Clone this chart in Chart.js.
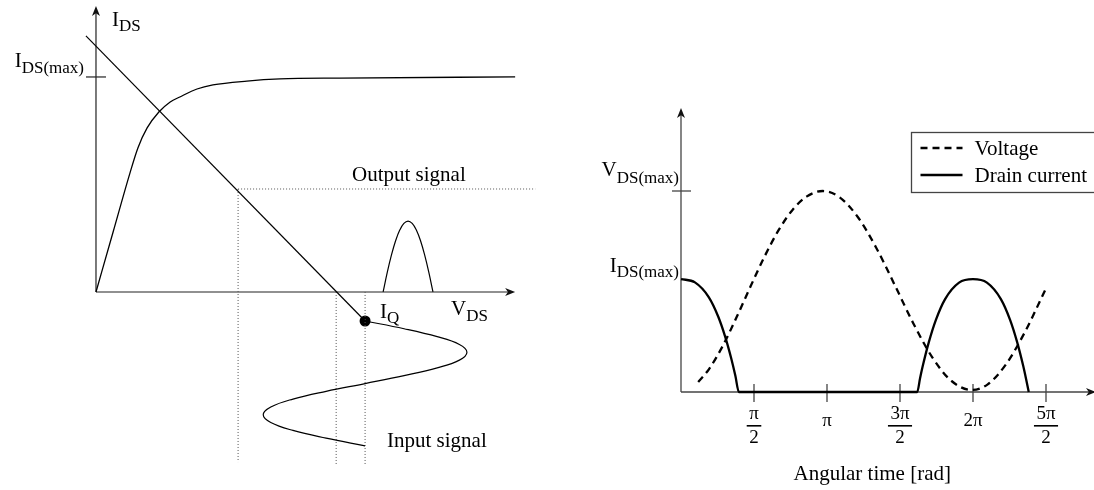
<!DOCTYPE html>
<html>
<head>
<meta charset="utf-8">
<script src="https://cdn.jsdelivr.net/npm/chart.js@4.4.1/dist/chart.umd.min.js"></script>
<style>
  html, body { margin: 0; padding: 0; background: #fff; overflow: hidden; }
  #wrap { position: relative; width: 1094px; height: 490px; }
  canvas { position: absolute; top: 0; }
  #load { left: 0; }
  #wave { left: 547px; }
</style>
</head>
<body>
<div id="wrap">
  <canvas id="load" width="547" height="490"></canvas>
  <canvas id="wave" width="547" height="490"></canvas>
</div>
<script>
const SERIF = '"Liberation Serif", "Times New Roman", serif';

// ---------- Left panel: output characteristic, load line and signals ----------
// Output characteristic I_DS(V_DS)
const charV = [0, 0.41, 0.81, 1.00, 1.22, 1.50, 1.77, 2.00, 2.41, 2.79, 3.60, 4.39, 5.82, 10.0];
const charI = [0, 2.80, 5.53, 6.70, 7.63, 8.37, 8.84, 9.07, 9.44, 9.63, 9.81, 9.91, 9.95, 10.0];
// Load line through the quiescent point
const loadV = [-0.24, 6.42];
const loadI = [11.91, -1.35];
const quiescentV = [6.42];
const quiescentI = [-1.35];
// Input signal drawn below the V_DS axis (time runs downward)
const inputV = [6.42, 7.35, 8.14, 8.67, 8.85, 8.67, 8.14, 7.35, 6.42, 5.49, 4.70, 4.17, 3.99, 4.17, 4.70, 5.49, 6.42];
const inputI = [-1.35, -1.71, -2.08, -2.44, -2.80, -3.17, -3.53, -3.89, -4.26, -4.62, -4.98, -5.35, -5.71, -6.07, -6.44, -6.80, -7.16];
// Output current pulse
const pulseV = [6.85, 6.949, 7.048, 7.148, 7.247, 7.346, 7.445, 7.544, 7.643, 7.743, 7.842, 7.941, 8.04];
const pulseI = [0, 0.91, 1.71, 2.38, 2.88, 3.19, 3.30, 3.19, 2.88, 2.38, 1.71, 0.91, 0];
// Dotted projection lines
const outputLevelV = [3.39, 10.48];
const outputLevelI = [4.79, 4.79];
const dropV = [3.39, 5.73, 6.42];
const dropTop = [4.79, 0, 0];
const dropBottom = [-7.91, -8.05, -8.05];
const idsMax = 10;
const vdsAxisMax = 10;
const idsAxisMax = 13.3;
const vdsView = [-2.29, 10.76];
const idsView = [-9.21, 13.58];

// ---------- Right panel: drain voltage and current against angular time ----------
const voltT = [0.37, 0.60, 0.90, 1.20, 1.50, 1.80, 2.10, 2.40, 2.70, 3.05, 3.40, 3.80, 4.20, 4.60, 5.00, 5.40, 5.80, 6.26, 6.60, 7.00, 7.40, 7.64, 7.87];
const voltage = [0.050, 0.113, 0.230, 0.374, 0.527, 0.675, 0.805, 0.906, 0.972, 1.0, 0.971, 0.872, 0.718, 0.532, 0.341, 0.175, 0.059, 0.01, 0.038, 0.140, 0.298, 0.411, 0.524];
const currT = [0, 0.30, 0.60, 0.80, 0.95, 1.08, 1.17, 1.245, 5.083, 5.143, 5.203, 5.333, 5.483, 5.683, 5.983, 6.283, 6.583, 6.883, 7.083, 7.233, 7.363, 7.423, 7.483];
const current = [1.0, 0.971, 0.839, 0.669, 0.491, 0.299, 0.144, 0, 0, 0.120, 0.232, 0.442, 0.637, 0.823, 0.969, 1.0, 0.969, 0.823, 0.637, 0.442, 0.232, 0.120, 0];
const seriesNames = ['Voltage', 'Drain current'];
const tickValues = [Math.PI / 2, Math.PI, 3 * Math.PI / 2, 2 * Math.PI, 5 * Math.PI / 2];
const tickNum = ['π', 'π', '3π', '2π', '5π'];
const tickDen = ['2', '', '2', '', '2'];
const timeMax = 5 * Math.PI / 2;
const currentAxisMax = 1.78;

const pts = (xs, ys) => xs.map((x, i) => ({ x, y: ys[i] }));

function arrow(ctx, tx, ty, dir, len = 10, half = 4) {
  ctx.beginPath();
  if (dir === 'up') {
    ctx.moveTo(tx, ty);
    ctx.lineTo(tx + half, ty + len);
    ctx.lineTo(tx, ty + len * 0.72);
    ctx.lineTo(tx - half, ty + len);
  } else {
    ctx.moveTo(tx, ty);
    ctx.lineTo(tx - len, ty - half);
    ctx.lineTo(tx - len * 0.72, ty);
    ctx.lineTo(tx - len, ty + half);
  }
  ctx.closePath();
  ctx.fill();
}

function seg(ctx, x1, y1, x2, y2) {
  ctx.beginPath();
  ctx.moveTo(x1, y1);
  ctx.lineTo(x2, y2);
  ctx.stroke();
}

// Main symbol with a subscript; x is the left edge, or the right edge when align is 'right'
function subLabel(ctx, main, sub, x, base, shift, align) {
  ctx.font = '21px ' + SERIF;
  const wm = ctx.measureText(main).width;
  ctx.font = '17px ' + SERIF;
  const ws = ctx.measureText(sub).width;
  const x0 = align === 'right' ? x - wm - ws : x;
  ctx.textAlign = 'left';
  ctx.textBaseline = 'alphabetic';
  ctx.font = '21px ' + SERIF;
  ctx.fillText(main, x0, base);
  ctx.font = '17px ' + SERIF;
  ctx.fillText(sub, x0 + wm, base + shift);
}

const loadDecor = {
  id: 'loadDecor',
  beforeDatasetsDraw(chart) {
    const { ctx, scales: { x, y } } = chart;
    const ox = x.getPixelForValue(0), oy = y.getPixelForValue(0);
    ctx.save();
    ctx.strokeStyle = '#222';
    ctx.fillStyle = '#111';
    ctx.lineWidth = 1.2;
    const yt = y.getPixelForValue(idsAxisMax);
    seg(ctx, ox, oy, ox, yt + 4);
    arrow(ctx, ox, yt, 'up');
    const xe = x.getPixelForValue(vdsAxisMax);
    seg(ctx, ox, oy, xe - 4, oy);
    arrow(ctx, xe, oy, 'right');
    const ym = y.getPixelForValue(idsMax);
    seg(ctx, ox - 10, ym, ox + 10, ym);

    ctx.fillStyle = '#000';
    subLabel(ctx, 'I', 'DS', ox + 16, 26, 5);
    subLabel(ctx, 'I', 'DS(max)', ox - 12, 67, 6, 'right');
    subLabel(ctx, 'I', 'Q', 380, 318, 5);
    subLabel(ctx, 'V', 'DS', 451, 315, 6);
    ctx.font = '21px ' + SERIF;
    ctx.fillText('Output signal', 352, 181);
    ctx.fillText('Input signal', 387, 447);
    ctx.restore();
  }
};

const solid = (data, extra) => Object.assign({
  data, showLine: true, borderColor: '#000', borderWidth: 1.3,
  pointRadius: 0, tension: 0, clip: false
}, extra || {});
const dotted = (data) => solid(data, { borderColor: '#555', borderWidth: 1, borderDash: [1, 2] });

new Chart(document.getElementById('load'), {
  type: 'scatter',
  data: {
    datasets: [
      solid(pts(charV, charI), { cubicInterpolationMode: 'monotone' }),
      solid(pts(loadV, loadI), { borderWidth: 1.2 }),
      solid(pts(inputV, inputI), { tension: 0.4, borderWidth: 1.2 }),
      solid(pts(pulseV, pulseI), { tension: 0.4, borderWidth: 1.2 }),
      dotted(pts(outputLevelV, outputLevelI)),
      ...dropV.map((v, i) => dotted([{ x: v, y: dropTop[i] }, { x: v, y: dropBottom[i] }])),
      {
        data: pts(quiescentV, quiescentI), showLine: false, pointRadius: 5.5,
        pointBackgroundColor: '#000', pointBorderWidth: 0, clip: false
      }
    ]
  },
  options: {
    responsive: false, animation: false, events: [],
    layout: { padding: 0, autoPadding: false },
    scales: {
      x: { type: 'linear', display: false, min: vdsView[0], max: vdsView[1] },
      y: { type: 'linear', display: false, min: idsView[0], max: idsView[1] }
    },
    plugins: { legend: { display: false }, tooltip: { enabled: false } }
  },
  plugins: [loadDecor]
});

const waveDecor = {
  id: 'waveDecor',
  beforeDatasetsDraw(chart) {
    const { ctx, chartArea: a, scales: { x, yV } } = chart;
    const ox = x.getPixelForValue(0), oy = yV.getPixelForValue(0);
    ctx.save();
    ctx.strokeStyle = '#444';
    ctx.fillStyle = '#111';
    ctx.lineWidth = 1.3;
    const topTip = a.top - 83;
    seg(ctx, ox, oy, ox, topTip + 4);
    arrow(ctx, ox, topTip, 'up');
    seg(ctx, ox, oy, chart.width, oy);
    arrow(ctx, chart.width + 2, oy, 'right');
    const vm = yV.getPixelForValue(1);
    seg(ctx, ox - 9, vm, ox + 10, vm);
    tickValues.forEach(v => {
      const px = x.getPixelForValue(v);
      seg(ctx, px, oy - 8, px, oy + 10);
    });

    ctx.fillStyle = '#000';
    subLabel(ctx, 'V', 'DS(max)', ox - 2, 176, 7, 'right');
    subLabel(ctx, 'I', 'DS(max)', ox - 2, 272, 5, 'right');

    // fraction tick labels
    ctx.textAlign = 'center';
    ctx.font = '19px ' + SERIF;
    tickValues.forEach((v, i) => {
      const px = x.getPixelForValue(v);
      if (tickDen[i]) {
        const w = ctx.measureText(tickNum[i]).width + 5;
        ctx.fillText(tickNum[i], px, oy + 27);
        ctx.fillRect(px - w / 2, oy + 33, w, 1.6);
        ctx.fillText(tickDen[i], px, oy + 51);
      } else {
        ctx.fillText(tickNum[i], px, oy + 34);
      }
    });
    ctx.font = '21px ' + SERIF;
    ctx.fillText('Angular time [rad]', x.getPixelForValue(Math.PI * 1.31), 480);
    ctx.restore();
  },
  afterDatasetsDraw(chart) {
    const { ctx } = chart;
    const bx = 364.5, by = 132.5, bh = 60;
    ctx.save();
    ctx.fillStyle = '#fff';
    ctx.fillRect(bx, by, chart.width - bx + 5, bh);
    ctx.strokeStyle = '#444';
    ctx.lineWidth = 1.3;
    ctx.strokeRect(bx, by, chart.width - bx + 5, bh);
    const rows = [148, 175];
    chart.data.datasets.forEach((ds, i) => {
      ctx.strokeStyle = ds.borderColor;
      ctx.lineWidth = ds.borderWidth;
      ctx.setLineDash(ds.borderDash || []);
      seg(ctx, bx + 9, rows[i], bx + 51, rows[i]);
      ctx.setLineDash([]);
      ctx.fillStyle = '#000';
      ctx.font = '21px ' + SERIF;
      ctx.textAlign = 'left';
      ctx.fillText(ds.label, bx + 63, rows[i] + 7);
    });
    ctx.restore();
  }
};

new Chart(document.getElementById('wave'), {
  type: 'scatter',
  data: {
    datasets: [
      {
        label: seriesNames[0], data: pts(voltT, voltage), yAxisID: 'yV',
        showLine: true, borderColor: '#000', borderWidth: 2.3, borderDash: [7, 5],
        pointRadius: 0, cubicInterpolationMode: 'monotone', clip: false
      },
      {
        label: seriesNames[1], data: pts(currT, current), yAxisID: 'yI',
        showLine: true, borderColor: '#000', borderWidth: 2.3,
        pointRadius: 0, cubicInterpolationMode: 'monotone', clip: false
      }
    ]
  },
  options: {
    responsive: false, animation: false, events: [],
    layout: { padding: { left: 134, right: 48, top: 191, bottom: 98 }, autoPadding: false },
    scales: {
      x: { type: 'linear', display: false, min: 0, max: timeMax },
      yV: { type: 'linear', display: false, min: 0, max: 1 },
      yI: { type: 'linear', display: false, min: 0, max: currentAxisMax }
    },
    plugins: { legend: { display: false }, tooltip: { enabled: false } }
  },
  plugins: [waveDecor]
});
</script>
</body>
</html>
